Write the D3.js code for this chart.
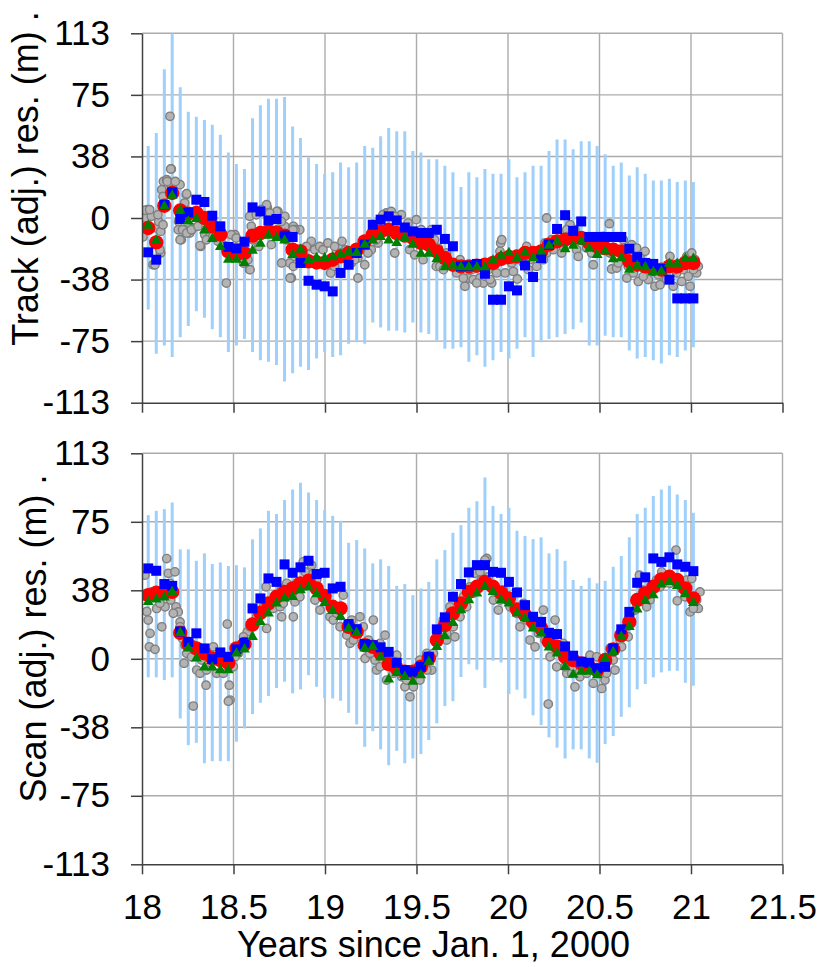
<!DOCTYPE html>
<html>
<head>
<meta charset="utf-8">
<script src="https://cdn.jsdelivr.net/npm/d3@7"></script>
<style>
  body { margin: 0; background: #fff; }
  text { font-family: "Liberation Sans", Arial, sans-serif; fill: #000; }
</style>
</head>
<body>
<svg id="chart" width="825" height="967"></svg>
<script>
// 16-day sample times (years since Jan. 1, 2000)
const years = [18.034,18.078,18.122,18.165,18.209,18.253,18.297,18.341,18.384,18.428,
  18.472,18.516,18.560,18.604,18.647,18.691,18.735,18.779,18.823,18.866,
  18.910,18.954,18.998,19.042,19.085,19.129,19.173,19.217,19.261,19.304,
  19.348,19.392,19.436,19.480,19.524,19.567,19.611,19.655,19.699,19.743,
  19.786,19.830,19.874,19.918,19.962,20.005,20.049,20.093,20.137,20.181,
  20.224,20.268,20.312,20.356,20.400,20.444,20.487,20.531,20.575,20.619,
  20.663,20.706,20.750,20.794,20.838,20.882,20.925,20.969,21.013];

const xTickValues = [18, 18.5, 19, 19.5, 20, 20.5, 21, 21.5];
const yTickValues = [-113, -75.33, -37.67, 0, 37.67, 75.33, 113];
const yTickLabels = ["-113", "-75", "-38", "0", "38", "75", "113"];

// Track panel
const trackHi = [44,52,91,113,80,65,62,60,57,51,40,33,30,61,69,73,73,74,56,49,37,33,27,28,34,31,34,44,43,50,
  55,53,53,41,40,36,36,32,28,19,28,25,30,27,27,36,25,28,32,32,41,48,48,42,47,47,44,39,32,34,26,31,27,23,23,24,22,23,22];
const trackLo = [-56,-83,-78,-85,-73,-66,-57,-61,-68,-73,-82,-78,-74,-82,-87,-88,-90,-100,-95,-91,-93,-86,-82,-85,-84,
  -77,-76,-77,-64,-67,-69,-69,-70,-64,-70,-71,-75,-80,-80,-79,-88,-84,-91,-87,-82,-86,-80,-73,-85,-76,-74,-73,-71,-68,
  -64,-78,-78,-72,-73,-73,-81,-86,-85,-87,-89,-84,-85,-81,-79];
const trackRed = [-6.1,-14.9,7.5,15.3,4.6,2.6,3.1,0,-5.1,-10.2,-20.4,-22.5,-21.4,-10.8,-9.2,-8.2,-8.8,-10.8,-19.4,-20.4,
  -26.5,-27.2,-27.5,-25.5,-23.5,-21.4,-19.4,-14.3,-10.2,-8.2,-7.2,-9.2,-10.8,-12.2,-15.3,-16.3,-20.4,-24.5,-28.6,-29.6,
  -29.6,-29.2,-28.6,-27.5,-25.1,-23.9,-23.5,-21.4,-21.4,-20.4,-16.3,-14.3,-13.3,-12.2,-12.2,-15.3,-17.4,-18.4,-19.4,-20.4,
  -26.5,-28.6,-29.6,-31.2,-31.6,-29.6,-29.6,-27.5,-27.5];
const trackBlue = [-21,-25.5,8,15.7,-0.6,3.4,11.2,9.8,1.4,-5.1,-17.7,-18.6,-14.5,6.5,4,-1.5,-0.6,-10.8,-11.6,-27.5,
  -38.4,-40.8,-41.8,-44.9,-33.6,-28.6,-21.4,-16.3,-4.1,-1,1,-1.5,-5.8,-8.2,-9.2,-9.2,-7.2,-12.8,-17.3,-29.6,
  -29.2,-28.1,-34.1,-50,-50,-41.8,-44.3,-29,-36.1,-24.5,-16.3,-6.7,1.7,-7.9,-2.1,-11.6,-11.6,-11.6,-11.6,-11.6,
  -18.8,-23.9,-27.5,-28.1,-31.2,-37.7,-49.2,-49.2,-49.2];
const trackGreen = [-4.7,-13.7,7.1,13.6,4.6,-2.1,-0.6,-7.6,-12.8,-17.7,-25.5,-25.5,-27.5,-20,-15.7,-10.8,-12.2,-13.7,-22.5,-19.4,
  -25.9,-24.5,-24.5,-23.9,-22.5,-21,-21.4,-16.3,-13.7,-11.6,-13.7,-15.3,-12.2,-16.3,-21.8,-21.8,-25.1,-30,-29.2,-30,
  -30,-30,-30,-25.9,-23.1,-21.4,-24.5,-21.4,-24.5,-20.4,-16.9,-14.5,-19,-16.9,-14.5,-18.8,-22.5,-20.4,-25.1,-24.5,
  -31.6,-29.2,-30,-33,-32.7,-28,-28,-24.9,-24.9];
const trackGrayYears = [18.029,18.018,18.005,18.051,18.060,18.078,18.091,18.102,18.102,18.115,18.124,18.133,18.151,18.160,
  18.169,18.193,18.200,18.215,18.242,18.233,18.261,18.279,18.321,18.343,18.370,18.406,18.443,18.461,18.507,18.525,
  18.557,18.588,18.588,18.597,18.607,18.638,18.685,18.707,18.725,18.743,18.761,18.780,18.789,18.807,18.834,18.862,
  18.834,18.889,18.916,18.925,18.944,18.971,18.989,19.016,19.031,19.053,19.071,19.093,19.111,19.144,19.180,19.180,
  19.217,19.253,19.271,19.290,19.335,19.362,19.381,19.417,19.435,19.463,19.499,19.526,19.563,19.599,19.608,19.536,
  19.490,19.290,18.816,18.153,18.108,18.117,18.135,18.157,18.208,18.244,18.198,18.222,18.271,18.326,18.390,18.436,
  18.508,18.681,18.736,18.781,18.827,18.836,18.098,18.071,18.208,18.244,18.317,18.526,18.590,18.554,18.763,18.809,
  18.827,19.619,19.628,19.665,19.738,19.765,19.783,19.810,19.847,19.856,19.865,19.892,19.911,19.929,19.956,19.960,
  19.984,20.020,20.029,20.051,20.066,20.102,20.111,20.139,20.157,20.193,20.202,20.211,20.239,20.266,20.311,20.339,
  20.357,20.375,20.293,20.211,19.966,20.284,20.321,20.430,20.466,20.493,20.521,20.554,20.557,20.566,20.594,20.630,
  20.630,20.649,20.676,20.703,20.712,20.721,20.749,20.758,20.767,20.794,20.803,20.831,20.849,20.885,20.903,20.922,
  20.949,20.977,20.995,21.004,21.022,21.031,21.040,
  18.015,18.042,18.087,18.115,18.138,18.182,18.233,18.270,18.306,18.352,18.388,18.415,18.452,18.488,18.515,18.543,
  18.579,18.625,18.652,18.698,18.761,18.798,18.825,18.852,18.870,18.898,18.952,19.007,19.053,19.089,19.116,19.162,
  19.198,19.235,19.280,19.317,19.381,19.454,19.481,19.554,19.581,
  19.647,19.692,19.720,19.756,19.802,19.829,19.874,19.902,19.938,19.993,20.038,20.084,20.120,20.175,20.248,20.293,
  20.330,20.366,20.302,20.384,20.457,20.512,20.603,20.657,20.685,20.739,20.776,20.821,20.867,20.913,20.958,20.985,21.013];
const trackGrayVals = [5.1,0,-11.6,1,-28.6,-6.1,-2.1,-8.2,-21.4,-4.1,22.4,18.4,21.4,30,
  17.3,20.4,-2.1,-13.3,14.3,-7.2,-9.2,-6.1,-17.4,-10.2,-11.3,-9.2,-16.3,-39.8,-11.3,-23.5,
  -27.5,-31.6,1,-5.1,-13.3,-17.4,6.1,-16.3,0,4,-7.2,-5.1,-13.3,-27.5,-23.5,-7.2,
  -19.4,-23.5,-17.4,-14.3,-19.4,-17.4,-19.4,-15.3,-33.6,-17.4,-23.5,-14.3,-19.4,-27.5,-36.7,-24.5,
  -28.6,-19.4,-10.2,-15.3,3.1,4,-21.4,2,-7.2,-19.4,-1,-7.2,-9.2,-13.3,-29.6,-25.5,
  -22.5,-9.2,-36.7,62.2,17.3,22.4,23.4,30,20.4,14.9,-7.2,-7.2,-7.2,-1,-5.1,-9.2,
  -10.2,8.1,4,1,-5.1,-7.2,-19.4,-28.6,-13.3,-9.2,-16.9,-23.5,-31.6,-27.5,-27.5,-36.7,
  -29.6,-18.4,-29.6,-21.4,-25.5,-41.8,-36.7,-37.7,-36.7,-29.6,-39.8,-31.6,-39.8,-28.6,-20.4,-15.3,
  -33.6,-27.5,-32.7,-37.3,-22.5,-17.4,-31.6,-20.4,-29.6,-25.5,-15.3,-21.4,-13.3,-15.3,-9.2,-4.1,
  -13.3,-19.4,-21.4,0,-13.3,-13.3,-7.2,-18.4,-28.6,-13.3,-11.3,-3.5,-21.4,-31.2,-30.6,-13.3,
  -19.4,-36.7,-16.3,-18.4,-38.8,-23.5,-20.4,-34.7,-37.7,-29.6,-41.8,-40.8,-35.7,-23.5,-41.8,-33.6,
  -38.8,-23.5,-41.8,-21.4,-25.5,-33.6,-29.6,
  4.7,5.1,2,13.2,22.4,22.4,9.2,-7.2,-5.1,-13.3,-11.3,-14.3,-17.4,-10.2,-12.2,-24.5,
  -25.5,2,5.1,3.1,-2.1,-10.2,-7.2,-19.4,-27.5,-17.4,-25.5,-26.6,-29.6,-21.4,-23.5,-25.5,
  -19.4,-21.4,-13.3,2,1,-3.1,-8.2,-11.3,-7.2,
  -31.6,-27.5,-33.6,-36.7,-31.6,-39.8,-35.7,-37.7,-33.6,-25.5,-25.5,-27.5,-25.5,-23.5,-19.4,-15.3,
  -11.3,-7.2,-17.4,-23.5,-21.4,-19.4,-27.5,-29.6,-33.6,-35.7,-31.6,-34.7,-37.7,-31.6,-31.6,-35.7,-31.6];

// Scan panel
const scanHi = [79,81.4,82.3,86,60.2,60.2,53.9,58,52.1,53,51,51.5,50.3,65.7,71.7,81.4,79.6,87.3,93.1,96.8,
  91.5,87.3,81.8,78.6,75.9,63.8,65.3,60.7,52.5,54.7,51,40.1,41.1,35,38.7,42.3,54.7,59.8,69.3,73.5,
  83,86.7,99.7,84,79.6,83,70.4,67.5,65.8,66.8,58,60.3,53.9,43.3,40.1,44.5,41.5,42.9,50.6,56.5,
  66.8,79.6,83,89.5,93.1,95.1,90.4,87.3,80.3];
const scanLo = [-10.2,-10.2,-11.7,-10.2,-32.8,-47.5,-46.2,-57.5,-56.3,-56.3,-56.3,-45.6,-38.3,-30.4,-24.2,-20.5,-16.1,-12.6,-19,-16.8,
  -9,-15.4,-21.6,-21.8,-23.1,-29.7,-36.1,-48.4,-39.8,-49.8,-58.5,-50.6,-57.5,-54.8,-52.4,-44.7,-35.5,-26,-23.3,-10,
  -3,-6,-16,-1,-2,-19.4,-17,-21.8,-31.1,-36.5,-43.2,-48.9,-54.8,-49.8,-49.8,-54.8,-57.2,-46.9,-42.5,-31.9,
  -26.7,-16.8,-13.9,-10.2,-7.5,-6.6,-6.6,-13.2,-14.8];
const scanRed = [35,36.3,36.3,36.8,14.3,8.1,5.7,3,0.2,-0.7,-2.2,5.7,8.1,18.9,25.3,30.5,34.1,36.8,38.7,41.5,
  42.9,38.7,34.5,28.6,27.7,17.6,14.8,7.5,6.6,3,-2.9,-5.3,-7.1,-7.1,-4.4,0.2,10.3,18.5,25,30.5,
  36.8,39.6,42.3,39.6,36.3,33.2,27.2,24,20.3,16.7,9.3,6.6,1.1,-0.7,-2.5,-4.4,-6.2,-0.7,5.2,13,
  20.3,32.3,36,39.6,43.7,45.1,43.3,38.7,33.2];
const scanBlue = [49.7,48.4,41.1,40.1,15,9.3,14,5.7,-0.2,3.5,1.1,5.2,8.8,27.7,33.2,44.2,42.3,51.9,47.3,50.3,
  53.9,46.6,47.3,38.7,39.6,19.1,16.3,8.1,7.5,6.3,3.8,-2.2,-6.2,-7.1,-4.4,1.1,16.2,22.8,34.1,41.1,
  47.5,51.5,51.5,47.8,47.3,42.3,36.5,29.5,23.1,20.3,14.3,13.6,6.8,1.7,-1.6,-2.2,-5.3,-4.4,5.7,16.2,
  25.8,41.8,44.8,55.2,53.3,55.8,51.9,50.6,48.2];
const scanGreen = [31.3,32.7,33.8,36.8,14.3,5.7,0.2,-4.7,-4.7,-6.2,-6.2,3,5.2,12.1,20.3,25,30.5,33.2,34.1,37.8,
  39.3,35.6,30.8,26.4,23.1,16.7,14.3,5.7,6.6,0.8,-11.3,-7.7,-9.9,-12.6,-9,-1.6,6.6,12.5,19.8,26.8,
  32.3,36,39.6,36.8,32.3,30.5,25,22.2,16.7,14,6.3,3,-4.4,-8.7,-7.1,-7.1,-9,0.2,3.8,12.1,
  17.6,27.2,31.9,35,40.9,42.3,40.1,35.6,30.8];
const scanGrayYears = [18.016,18.026,18.034,18.040,18.071,18.053,18.080,18.108,18.126,18.135,18.144,18.157,18.180,18.186,
  18.198,18.208,18.222,18.230,18.244,18.280,18.299,18.317,18.350,18.368,18.390,18.408,18.426,18.466,18.477,18.481,
  18.499,18.526,18.545,18.575,18.608,18.645,18.678,18.681,18.717,18.763,18.791,18.827,18.836,18.845,18.280,18.472,
  18.763,18.754,18.863,18.881,18.936,18.945,18.973,19.027,19.045,19.100,19.119,19.137,19.173,19.191,19.219,19.237,
  19.264,19.282,19.301,19.328,19.337,19.373,19.392,19.419,19.437,19.464,19.474,19.501,19.519,19.556,19.583,19.610,
  19.646,19.665,19.683,19.710,19.756,19.792,19.820,19.847,19.884,19.892,19.920,19.947,19.974,20.011,20.047,20.066,
  20.084,20.120,20.148,20.175,20.193,20.211,20.230,20.257,20.266,20.302,20.321,20.339,20.366,20.375,20.220,
  20.393,20.412,20.448,20.466,20.485,20.512,20.530,20.557,20.585,20.612,20.649,20.667,20.694,20.718,20.758,20.776,
  20.794,20.812,20.840,20.867,20.918,20.925,20.949,20.977,20.995,21.022,21.040,21.049,21.004,
  18.791,18.891,18.927,18.954,18.991,19.064,19.082,19.146,19.155,19.209,19.246,19.273,19.301,19.346,19.383,19.410,
  19.446,19.483,19.519,19.556,19.592,19.628,19.665,19.701,19.738,19.774,19.810,19.856,19.874,19.911,19.956,19.993,
  20.029,20.102,20.138,20.166,20.202,20.248,20.293,20.311,20.348,
  18.044,18.080,18.098,18.153,18.171,18.208,18.235,18.271,18.326,18.353,18.408,18.444,18.508,18.554,18.590,18.627,
  18.663,18.727,18.772,18.809,
  20.302,20.357,20.430,20.494,20.539,20.575,20.621,20.657,20.703,20.739,20.831,20.885,20.967,21.013,21.031];
const scanGrayVals = [46,26,21.3,6.6,5.2,36.8,27.7,17.6,28.6,55.1,47,32.3,47.8,28.6,
  25.8,20.3,11.2,-2.5,3,7.5,-6.2,-8,-14.5,-4.4,6.6,-8,3,19.1,-14.5,-22.7,
  -4.4,3,8.5,14.8,20.3,25,39.6,16.7,27.7,38.7,41.5,23.1,31.3,41.5,-26,-23.3,
  23.1,28.6,34.1,53.3,47,32.3,26.8,23.1,21.3,35,13,8.5,12.1,23.1,0.2,10.3,
  21.3,-6.2,8.5,13,-11.7,-8,2,-9.9,-15.4,-20.9,-6.2,-6.2,-0.7,3,-6.2,10.3,
  21.3,14,28.6,12.1,34.1,39.6,47,47.8,55.2,45.1,32.3,26.8,37.8,28.6,25,17.6,
  30.5,10.3,6.6,19.5,26.8,14,1.1,21.3,-4.4,8.5,-8,-0.7,-15.4,-6.2,-24.9,
  -9.9,-6.2,2,-13.5,1.1,-16.3,-11.7,5.7,-6.2,10.3,17.6,25,26.8,46,28.6,32.3,
  39.6,43.3,47.8,45.1,59.8,31.9,38.7,43.3,25.8,33.2,27.7,36.8,44.2,
  34.1,47.8,51.5,43.3,34.1,25,17.6,21.3,10.3,17.6,3,-0.7,-4.4,1.1,-1.6,-8,
  -11.7,-15.4,-11.7,-6.2,3,14,10.3,17.6,23.1,28.6,36,43.3,54.3,39.6,32.3,32.3,
  28.6,21.3,17.6,14,10.3,6.6,3,-4.4,-8,
  14,34.1,30.5,41.5,25,17.6,7.5,1.1,-0.7,-6.2,-0.7,-8,1.1,12.1,17.6,23.1,
  28.6,34.1,30.5,36,
  3,-4.4,-8,-8,-8,-0.7,6.6,12.1,32.3,37.8,39.6,41.5,34.1,27.7,32.3];

const svg = d3.select('#chart');
const x = d3.scaleLinear().domain([18, 21.5]).range([142, 782.5]);

const panels = [
  { top: 33.3, bottom: 402.7, hi: trackHi, lo: trackLo, red: trackRed, blue: trackBlue, green: trackGreen,
    grayYears: trackGrayYears, grayVals: trackGrayVals, title: 'Track (adj.) res. (m) .', titleX: 38, titleY: 178.5, labels: false },
  { top: 453.3, bottom: 864.3, hi: scanHi, lo: scanLo, red: scanRed, blue: scanBlue, green: scanGreen,
    grayYears: scanGrayYears, grayVals: scanGrayVals, title: 'Scan (adj.) res. (m) .', titleX: 46, titleY: 638.5, labels: true }
];

panels.forEach((p, k) => {
  const y = d3.scaleLinear().domain([-113, 113]).range([p.bottom, p.top]);
  const g = svg.append('g');

  // grid
  g.append('g').selectAll('line').data(yTickValues.slice(1)).join('line')
    .attr('x1', x(18)).attr('x2', x(21.5)).attr('y1', d => y(d)).attr('y2', d => y(d))
    .attr('stroke', '#ababab').attr('stroke-width', 1.4);
  g.append('g').selectAll('line').data(xTickValues.slice(1)).join('line')
    .attr('x1', d => x(d)).attr('x2', d => x(d)).attr('y1', y(-113)).attr('y2', y(113))
    .attr('stroke', '#ababab').attr('stroke-width', 1.4);

  const clipId = 'clip' + k;
  svg.append('clipPath').attr('id', clipId).append('rect')
    .attr('x', x(18)).attr('y', y(113)).attr('width', x(21.5) - x(18)).attr('height', y(-113) - y(113));
  const plot = g.append('g').attr('clip-path', `url(#${clipId})`);

  // error bars
  plot.append('g').selectAll('line').data(years).join('line')
    .attr('x1', d => x(d)).attr('x2', d => x(d))
    .attr('y1', (d, i) => y(p.lo[i])).attr('y2', (d, i) => y(p.hi[i]))
    .attr('stroke', '#9fd0fc').attr('stroke-width', 3);

  // gray samples
  plot.append('g').selectAll('circle').data(p.grayYears).join('circle')
    .attr('cx', d => x(d)).attr('cy', (d, i) => y(p.grayVals[i])).attr('r', 4.2)
    .attr('fill', '#b3b3b3').attr('stroke', '#7f7f7f').attr('stroke-width', 1.4);

  // red
  plot.append('g').selectAll('circle').data(years).join('circle')
    .attr('cx', d => x(d)).attr('cy', (d, i) => y(p.red[i])).attr('r', 7.2)
    .attr('fill', '#ff0000');

  // blue squares
  const s = 10;
  plot.append('g').selectAll('rect').data(years).join('rect')
    .attr('x', d => x(d) - s / 2).attr('y', (d, i) => y(p.blue[i]) - s / 2)
    .attr('width', s).attr('height', s).attr('fill', '#0000ff');

  // green triangles
  const tri = d3.symbol().type(d3.symbolTriangle).size(50);
  plot.append('g').selectAll('path').data(years).join('path')
    .attr('d', tri)
    .attr('transform', (d, i) => `translate(${x(d)},${y(p.green[i])})`)
    .attr('fill', '#008000');

  // axes
  const yAxis = d3.axisLeft(y).tickValues(yTickValues).tickFormat((d, i) => yTickLabels[i])
    .tickSize(11).tickSizeOuter(0).tickPadding(21);
  const ya = g.append('g').attr('transform', `translate(${x(18)},0)`).call(yAxis);
  const xAxis = d3.axisBottom(x).tickValues(xTickValues).tickSize(10).tickSizeOuter(0).tickPadding(20)
    .tickFormat(p.labels ? d3.format('') : () => '');
  const xa = g.append('g').attr('transform', `translate(0,${y(-113)})`).call(xAxis);
  [ya, xa].forEach(a => {
    a.select('.domain').attr('stroke', '#404040').attr('stroke-width', 1.5);
    a.selectAll('.tick line').attr('stroke', '#404040').attr('stroke-width', 1.5);
    a.selectAll('text').attr('font-size', 35).attr('font-family', '"Liberation Sans", Arial, sans-serif').attr('fill', '#000');
  });

  // y title
  svg.append('text')
    .attr('transform', `translate(${p.titleX},${p.titleY}) rotate(-90)`)
    .attr('text-anchor', 'middle').attr('font-size', 36)
    .text(p.title);
});

svg.append('text').attr('x', 433.5).attr('y', 957).attr('text-anchor', 'middle')
  .attr('font-size', 36).text('Years since Jan. 1, 2000');
</script>
</body>
</html>
